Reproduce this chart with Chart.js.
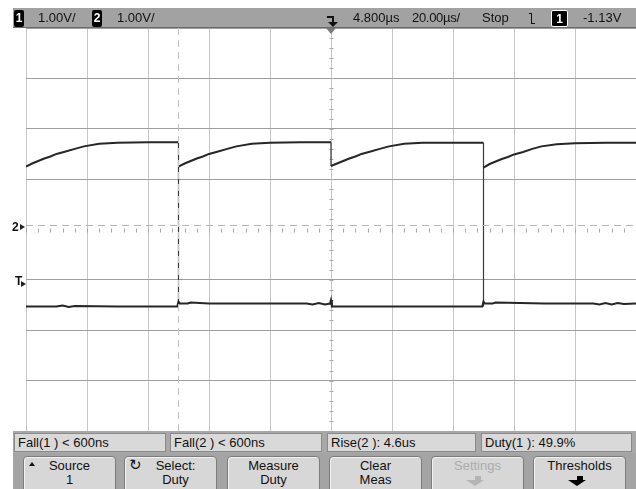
<!DOCTYPE html>
<html lang="en">
<head>
<meta charset="UTF-8">
<title>Scope - Duty</title>
<script src="https://cdn.jsdelivr.net/npm/chart.js"></script>
<style>
    * { margin: 0; padding: 0; box-sizing: border-box; }
    body { width: 636px; height: 489px; background: #fff; position: relative; overflow: hidden;
           font-family: "Liberation Sans", Arial, sans-serif; color: #111; }
    canvas { position: absolute; left: 0; top: 0; }
    .abs { position: absolute; }
    .topbar { left: 13px; top: 8px; width: 623px; height: 20px; background: #a2a2a2; border-bottom: 1px solid #6a6a6a; }
    .txt { position: absolute; font-size: 13px; line-height: 14px; white-space: nowrap; }
    .chbox { position: absolute; background: #000; color: #fff; font-size: 12px; font-weight: bold;
             line-height: 16px; text-align: center; border-radius: 2px; }
    .measrow { left: 13px; top: 431px; width: 623px; height: 22px; background: #a8a8a8; }
    .meas { position: absolute; top: 433px; height: 19px; background: #d9d9d9; border: 1px solid #8a8a8a;
            font-size: 13px; line-height: 17px; padding-left: 3px; white-space: nowrap; }
    .keyrow { left: 13px; top: 453px; width: 623px; height: 36px; background: #a4a4a4; }
    .key { position: absolute; top: 456px; width: 93px; height: 40px; background: #d7d7d7;
           border: 1px solid #7c7c7c; border-radius: 4px; box-shadow: inset 1px 1px 0 #f2f2f2;
           font-size: 13px; line-height: 14px; text-align: center; padding-top: 2px; }
    .tri-down { width: 0; height: 0; border-left: 5px solid transparent; border-right: 5px solid transparent; }
    .tri-right { width: 0; height: 0; border-top: 3px solid transparent; border-bottom: 3px solid transparent; border-left: 5px solid #222; }
</style>
</head>
<body>
<canvas id="scope" width="636" height="489"></canvas>

<!-- barra superior -->
<div class="abs topbar"></div>
<div class="chbox" style="left:14px; top:10px; width:10px; height:17px;">1</div>
<div class="txt" style="left:38px; top:11px;">1.00V/</div>
<div class="chbox" style="left:92px; top:10px; width:10px; height:17px;">2</div>
<div class="txt" style="left:117px; top:11px;">1.00V/</div>
<!-- simbolo de trigger -->
<div class="abs" style="left:327px; top:16px; width:7px; height:2px; background:#111;"></div>
<div class="abs" style="left:332px; top:16px; width:2px; height:7px; background:#111;"></div>
<div class="abs tri-down" style="left:328px; top:22px; border-top:5px solid #111;"></div>
<div class="txt" style="left:353px; top:11px;">4.800µs</div>
<div class="txt" style="left:412px; top:11px; letter-spacing:-0.3px;">20.00µs/</div>
<div class="txt" style="left:482px; top:11px;">Stop</div>
<!-- borda de descida -->
<div class="abs" style="left:529px; top:13px; width:3px; height:1px; background:#111;"></div>
<div class="abs" style="left:531px; top:13px; width:1px; height:11px; background:#111;"></div>
<div class="abs" style="left:531px; top:23px; width:4px; height:1px; background:#111;"></div>
<div class="chbox" style="left:551px; top:10px; width:17px; height:17px; border:1px solid #fff;">1</div>
<div class="txt" style="left:583px; top:11px;">-1.13V</div>

<!-- marcadores -->
<div class="abs tri-down" style="left:326px; top:28px; border-top:6px solid #7a7a7a;"></div>
<div class="txt" style="left:12px; top:220px; font-size:12px; font-weight:bold;">2</div>
<div class="abs tri-right" style="left:20px; top:224px;"></div>
<div class="txt" style="left:15px; top:274px; font-size:12px; font-weight:bold;">T</div>
<div class="abs tri-right" style="left:21px; top:281px;"></div>

<!-- medidas -->
<div class="abs measrow"></div>
<div class="meas" style="left:14px; width:152px;">Fall(1 ) &lt; 600ns</div>
<div class="meas" style="left:170px; width:152px;">Fall(2 ) &lt; 600ns</div>
<div class="meas" style="left:327px; width:149px;">Rise(2 ): 4.6us</div>
<div class="meas" style="left:481px; width:151px;">Duty(1 ): 49.9%</div>

<!-- softkeys -->
<div class="abs keyrow"></div>
<div class="key" style="left:23px;">Source<br>1
    <div class="abs" style="left:5px; top:5px; width:0; height:0; border-left:3px solid transparent; border-right:3px solid transparent; border-bottom:4px solid #111;"></div>
</div>
<div class="key" style="left:124px; padding-left:10px;">Select:<br>Duty
    <div class="abs" style="left:4px; top:0px; font-family:'DejaVu Sans'; font-size:15px; line-height:16px;">↻</div>
</div>
<div class="key" style="left:227px;">Measure<br>Duty</div>
<div class="key" style="left:329px;">Clear<br>Meas</div>
<div class="key" style="left:431px; color:#ababab;">Settings
    <div class="abs" style="left:43px; top:19px; width:6px; height:4px; background:#b4b4b4;"></div>
    <div class="abs tri-down" style="left:37px; top:23px; border-left-width:9px; border-right-width:9px; margin-left:-3px; border-top:6px solid #b4b4b4;"></div>
</div>
<div class="key" style="left:533px;">Thresholds
    <div class="abs" style="left:43px; top:19px; width:6px; height:4px; background:#000;"></div>
    <div class="abs tri-down" style="left:37px; top:23px; border-left-width:9px; border-right-width:9px; margin-left:-3px; border-top:6px solid #000;"></div>
</div>

<script>
    // eixos: 20us/div (10 div), 1V/div (8 div)
    const timeTicks = [-100, -80, -60, -40, -20, 0, 20, 40, 60, 80, 100];
    const voltTicks = [-4, -3, -2, -1, 0, 1, 2, 3, 4];

    // canal 1 (traco de cima) - tempo em us, tensao em V
    const ch1Time = [-100, -98, -96, -94, -92, -90, -87, -84, -81, -76, -70, -60, -50, -50, -50,
                     -48, -46, -44, -42, -40, -37, -34, -31, -26, -20, -10, 0, 0,
                     2, 4, 6, 8, 10, 13, 16, 19, 24, 30, 40, 50, 50, 50,
                     52, 54, 56, 58, 60, 63, 66, 69, 74, 80, 90, 100];
    const ch1Volt = [1.25, 1.31, 1.36, 1.41, 1.45, 1.50, 1.55, 1.60, 1.65, 1.70, 1.72, 1.73, 1.73, -1.53, 1.25,
                     1.31, 1.36, 1.41, 1.45, 1.50, 1.55, 1.60, 1.65, 1.70, 1.72, 1.73, 1.73, 1.26,
                     1.31, 1.36, 1.41, 1.45, 1.50, 1.55, 1.60, 1.65, 1.70, 1.72, 1.72, 1.72, -1.53, 1.23,
                     1.30, 1.35, 1.40, 1.44, 1.49, 1.54, 1.60, 1.65, 1.69, 1.71, 1.72, 1.72];

    // canal 2 (traco de baixo)
    const ch2Time = [-100, -90, -88, -86, -84, -70, -50.4, -50, -49.6, -47, -46, -40, -20, -8, -6, -4, -2, -0.3, 0, 0.3,
                     20, 40, 49.6, 50, 50.4, 53, 54, 70, 86, 88, 90, 92, 94, 96, 100];
    const ch2Volt = [-1.53, -1.53, -1.51, -1.54, -1.52, -1.53, -1.53, -1.43, -1.47, -1.47, -1.45, -1.47, -1.47, -1.47, -1.49, -1.46, -1.49, -1.47, -1.40, -1.53,
                     -1.53, -1.53, -1.53, -1.43, -1.47, -1.47, -1.45, -1.47, -1.47, -1.49, -1.46, -1.49, -1.46, -1.48, -1.47];

    const ch2Ground = 0.08;   // marcador "2"
    const cursorTime = -50;   // linha tracejada vertical

    const toPoints = (xs, ys) => xs.map((x, i) => ({ x: x, y: ys[i] }));

    // bordas verticais ficam finas, como no scope
    const isEdge = (c) => c.p0.parsed.x === c.p1.parsed.x;
    const traceSegment = {
        borderColor: (c) => isEdge(c) ? '#3a3a3a' : undefined,
        borderWidth: (c) => isEdge(c) ? 1.2 : undefined
    };

    // marquinhas nos eixos centrais
    const centerTicks = {
        id: 'centerTicks',
        beforeDatasetsDraw(chart) {
            const { ctx, scales: { x, y } } = chart;
            const cx = Math.round(x.getPixelForValue(0)) + 0.5;
            const cy = Math.round(y.getPixelForValue(0)) + 0.5;
            ctx.save();
            ctx.strokeStyle = '#a9a9a9';
            ctx.lineWidth = 1;
            ctx.beginPath();
            for (let t = -100; t <= 100; t += 4) {
                const px = Math.round(x.getPixelForValue(t)) + 0.5;
                ctx.moveTo(px, cy - 2);
                ctx.lineTo(px, cy + 2);
            }
            for (let v = -4; v <= 4; v += 0.2) {
                const py = Math.round(y.getPixelForValue(v)) + 0.5;
                ctx.moveTo(cx - 2, py);
                ctx.lineTo(cx + 2, py);
            }
            ctx.stroke();
            ctx.restore();
        }
    };

    new Chart(document.getElementById('scope').getContext('2d'), {
        type: 'scatter',
        data: {
            datasets: [
                {
                    label: 'ref2',
                    data: toPoints([-100, 100], [ch2Ground, ch2Ground]),
                    showLine: true, borderColor: '#b3b3b3', borderWidth: 1, borderDash: [7, 5],
                    pointRadius: 0
                },
                {
                    label: 'cursor',
                    data: toPoints([cursorTime, cursorTime], [-4, 4]),
                    showLine: true, borderColor: '#c4c4c4', borderWidth: 1, borderDash: [7, 5],
                    pointRadius: 0
                },
                {
                    label: 'Ch2',
                    data: toPoints(ch2Time, ch2Volt),
                    showLine: true, borderColor: '#262626', borderWidth: 2, pointRadius: 0, tension: 0,
                    segment: traceSegment
                },
                {
                    label: 'Ch1',
                    data: toPoints(ch1Time, ch1Volt),
                    showLine: true, borderColor: '#262626', borderWidth: 2, pointRadius: 0, tension: 0,
                    segment: traceSegment
                }
            ]
        },
        options: {
            responsive: false,
            animation: false,
            layout: { padding: { left: 26, top: 28, right: 0, bottom: 58 } },
            plugins: { legend: { display: false }, tooltip: { enabled: false } },
            scales: {
                x: {
                    type: 'linear', min: -100, max: 100,
                    afterBuildTicks: (scale) => { scale.ticks = timeTicks.map(v => ({ value: v })); },
                    ticks: { display: false },
                    grid: { color: '#c6c6c6', drawTicks: false },
                    border: { display: false }
                },
                y: {
                    type: 'linear', min: -4, max: 4,
                    afterBuildTicks: (scale) => { scale.ticks = voltTicks.map(v => ({ value: v })); },
                    ticks: { display: false },
                    grid: { color: (c) => c.tick && c.tick.value === 0 ? 'rgba(0,0,0,0)' : '#9e9e9e', drawTicks: false },
                    border: { display: false }
                }
            }
        },
        plugins: [centerTicks]
    });
</script>
</body>
</html>
